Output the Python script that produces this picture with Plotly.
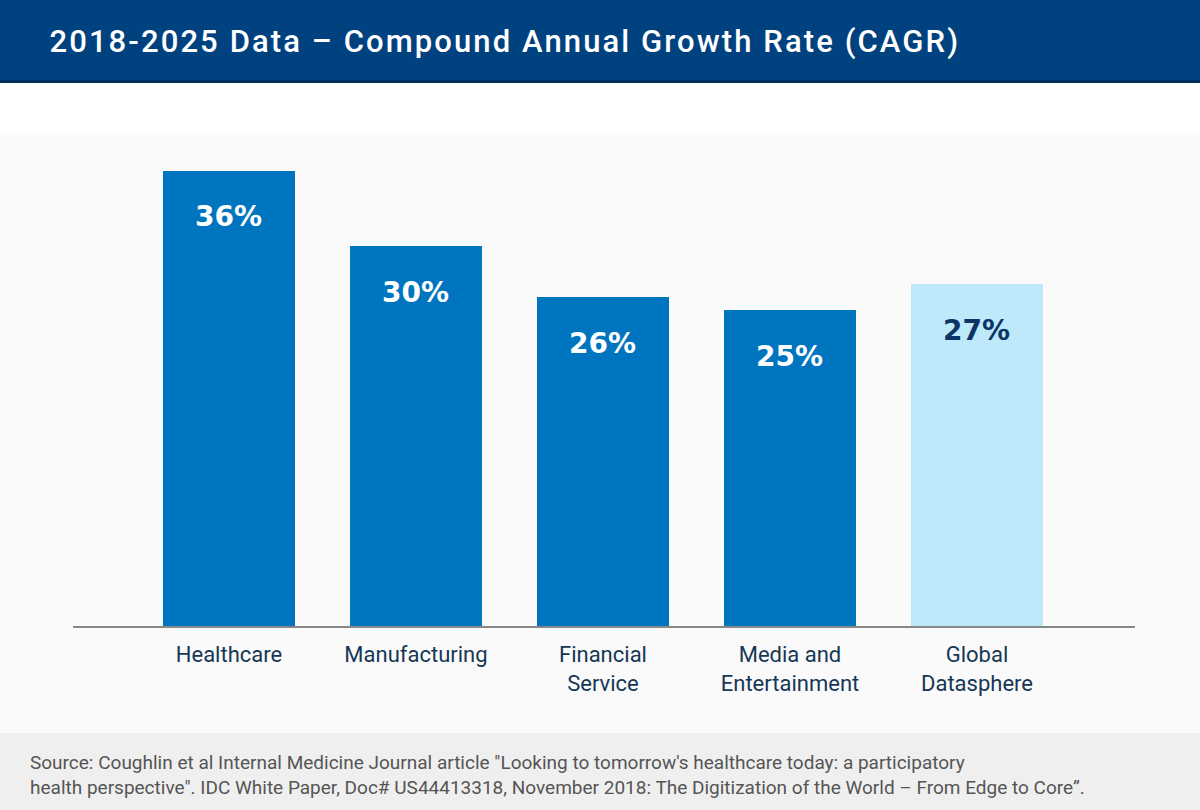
import plotly.graph_objects as go

categories = ["Healthcare", "Manufacturing", "Financial<br>Service", "Media and<br>Entertainment", "Global<br>Datasphere"]
values = [36, 30, 26, 25, 27]
labels = ["36%", "30%", "26%", "25%", "27%"]
bar_colors = ["#0075bf", "#0075bf", "#0075bf", "#0075bf", "#bde9fb"]
label_colors = ["white", "white", "white", "white", "#0d3466"]

title_text = "2018-2025 Data \u2013 Compound Annual Growth Rate (CAGR)"
source_line1 = "Source: Coughlin et al Internal Medicine Journal article \"Looking to tomorrow's healthcare today: a participatory"
source_line2 = "health perspective\". IDC White Paper, Doc# US44413318, November 2018: The Digitization of the World \u2013 From Edge to Core\u201d."

W, H = 1200, 810
x_idx = list(range(len(categories)))

fig = go.Figure()
fig.add_trace(go.Bar(
    x=x_idx, y=values, width=0.706,
    marker=dict(color=bar_colors, line=dict(width=0)),
    hoverinfo="skip", showlegend=False,
))

for i, (v, t, c) in enumerate(zip(values, labels, label_colors)):
    fig.add_annotation(x=i, y=v, xref="x", yref="y", text=f"<b>{t}</b>",
                       showarrow=False, yanchor="middle", yshift=-46,
                       font=dict(family="DejaVu Sans", size=28, color=c))

def py(px):
    return 1 - px / H

shapes = [
    dict(type="rect", xref="paper", yref="paper", x0=0, x1=1, y0=py(135), y1=py(733),
         fillcolor="#fafafa", line=dict(width=0), layer="below"),
    dict(type="rect", xref="paper", yref="paper", x0=0, x1=1, y0=py(733), y1=0,
         fillcolor="#efefef", line=dict(width=0), layer="below"),
    dict(type="rect", xref="paper", yref="paper", x0=0, x1=1, y0=py(82), y1=1,
         fillcolor="#00427f", line=dict(width=0), layer="below"),
    dict(type="rect", xref="paper", yref="paper", x0=0, x1=1, y0=py(83), y1=py(80),
         fillcolor="#002f5e", line=dict(width=0), layer="below"),
]

fig.add_annotation(xref="paper", yref="paper", x=505 / W, y=py(42), xanchor="center", yanchor="middle",
                   text=title_text, showarrow=False,
                   font=dict(family="Roboto", size=31, color="white", weight=500))

fig.add_annotation(xref="paper", yref="paper", x=28 / W, y=py(762), xanchor="left", yanchor="middle",
                   text=source_line1, showarrow=False,
                   font=dict(family="Roboto", size=19, color="#555555"))
fig.add_annotation(xref="paper", yref="paper", x=28 / W, y=py(787), xanchor="left", yanchor="middle",
                   text=source_line2, showarrow=False,
                   font=dict(family="Roboto", size=19, color="#555555"))

fig.update_layout(
    width=W, height=H,
    margin=dict(l=0, r=0, t=0, b=0),
    paper_bgcolor="white", plot_bgcolor="rgba(0,0,0,0)",
    shapes=shapes,
    xaxis=dict(domain=[73 / W, 1135 / W], range=[-0.834, 4.845],
               tickvals=x_idx, ticktext=categories, showgrid=False, zeroline=False,
               showline=True, linecolor="#888888", linewidth=1.5, ticks="",
               ticklabelstandoff=8,
               tickfont=dict(family="Roboto", size=22, color="#163755"), fixedrange=True),
    yaxis=dict(domain=[py(626), py(120.4)], range=[0, 40], visible=False, fixedrange=True),
    bargap=0,
)

post_script = """
document.body.style.margin = '0';
var gd = document.getElementById('{plot_id}');
gd.querySelectorAll('text.annotation-text').forEach(function(t) {
  if (t.textContent.indexOf('2018-2025') === 0) { t.style.letterSpacing = '2.1px'; }
});
"""

fig.write_html("out.html", post_script=post_script, config={"displayModeBar": False})
